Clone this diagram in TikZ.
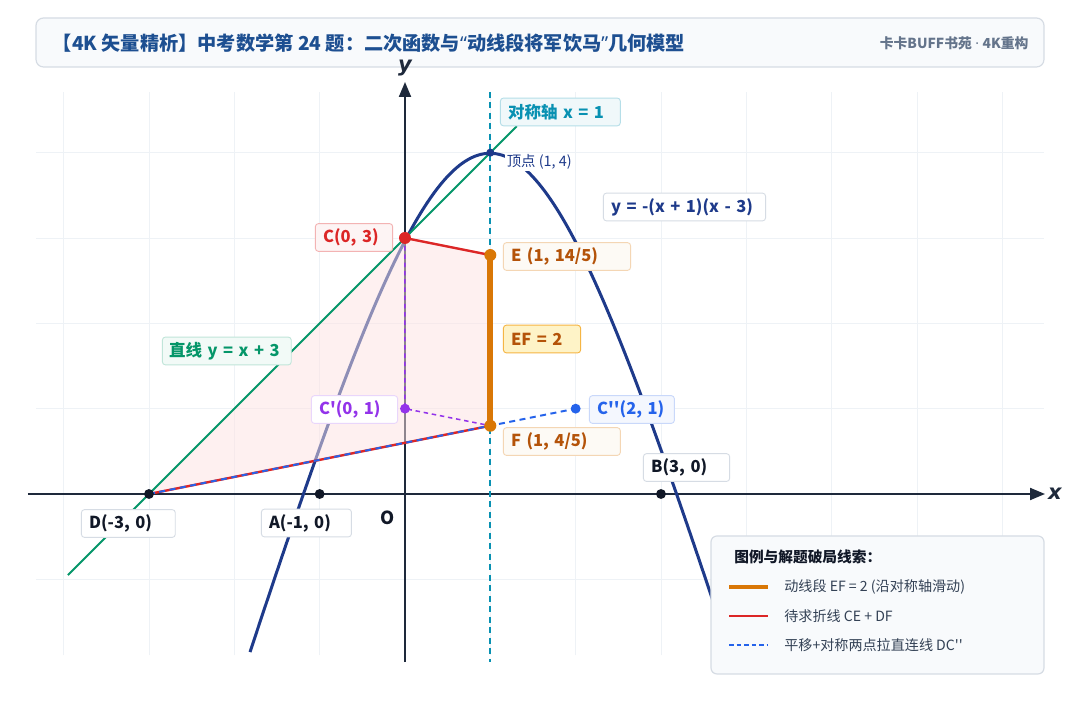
\documentclass[tikz,border=0pt]{standalone}
\usepackage{fontspec}
\setmainfont{Noto Sans CJK SC}
\newfontfamily\axisfont{DejaVu Sans}
\newfontfamily\latinfont{Noto Sans}
\usetikzlibrary{arrows.meta}

\definecolor{navy}{HTML}{1E3A8A}
\definecolor{axisc}{HTML}{1E293B}
\definecolor{gridc}{HTML}{EEF2F6}
\definecolor{ctitle}{HTML}{1D4F91}
\definecolor{cgreen}{HTML}{059669}
\definecolor{ccyan}{HTML}{0891B2}
\definecolor{cred}{HTML}{DC2626}
\definecolor{corange}{HTML}{D97706}
\definecolor{cbrown}{HTML}{B45309}
\definecolor{cpurple}{HTML}{9333EA}
\definecolor{cblue}{HTML}{2563EB}
\definecolor{cink}{HTML}{111827}
\definecolor{cslate}{HTML}{334155}
\definecolor{cgray}{HTML}{64748B}
\definecolor{cborder}{HTML}{D6DCE4}
\definecolor{cpanel}{HTML}{F8FAFC}
\definecolor{cpink}{HTML}{FEE2E2}
\definecolor{camber}{HTML}{FEF3C7}
\definecolor{camberl}{HTML}{F5B544}

\begin{document}
\begin{tikzpicture}[x=2cm, y=2cm,
    tag/.style={draw=cborder, fill=white, rounded corners=2pt, line width=0.6pt,
      anchor=west, minimum height=0.65cm, inner xsep=0.18cm, align=left,
      font=\bfseries\fontsize{11}{13}\selectfont},
    legtext/.style={anchor=west, text=cslate, font=\fontsize{9.4}{11}\selectfont}]

    \useasboundingbox (-4.746,-2.4375) rectangle (7.910,5.789);
    \fill[white] (-4.746,-2.4375) rectangle (7.910,5.789);

    % title bar
    \draw[cborder, fill=cpanel, rounded corners=5pt, line width=0.8pt] (-4.324,5.004) rectangle (7.488,5.578);
    \node[anchor=west, inner xsep=0pt, text=ctitle, font=\bfseries\fontsize{12.8}{14}\selectfont] (title) at (-4.13,5.285)
      {【4K 矢量精析】中考数学第 24 题：二次函数与{\latinfont “}动线段将军饮马{\latinfont ”}几何模型};
    \node[anchor=east, inner xsep=0pt, text=cgray, font=\bfseries\fontsize{9.2}{10}\selectfont] (brand) at (7.31,5.285)
      {卡卡BUFF书苑{\latinfont\ ·\ }4K重构};

    % grid
    \foreach \i in {-4,...,7}
      \draw[gridc, line width=0.6pt] (\i,-1.887) -- (\i,4.711);
    \foreach \j in {-1,...,4}
      \draw[gridc, line width=0.6pt] (-4.324,\j) -- (7.488,\j);

    % axes
    \draw[axisc, line width=1.3pt, -{Triangle[length=10pt,width=8pt]}] (-4.418,0) -- (7.5,0);
    \draw[axisc, line width=1.3pt, -{Triangle[length=10pt,width=8pt]}] (0,-1.969) -- (0,4.828);
    \node[text=axisc, font=\axisfont\bfseries\itshape\fontsize{14}{14}\selectfont] (xlab) at (7.617,0) {x};
    \node[text=axisc, font=\axisfont\bfseries\itshape\fontsize{14}{14}\selectfont] (ylab) at (0,4.99) {y};

    \coordinate (D) at (-3,0);
    \coordinate (A) at (-1,0);
    \coordinate (B) at (3,0);
    \coordinate (C) at (0,3);
    \coordinate (E) at (1,2.8);
    \coordinate (F) at (1,0.8);
    \coordinate (C1) at (0,1);
    \coordinate (C2) at (2,1);
    \coordinate (V) at (1,4);
    \coordinate (g1) at (-3.95,-0.95);
    \coordinate (g2) at (1.31,4.31);
    \coordinate (s1) at (1,4.711);
    \coordinate (s2) at (1,-1.969);

    % parabola
    \draw[navy, line width=2pt] (-1.816,-1.852) .. controls (0.762,5.941) and (1.231,5.941) .. (3.808,-1.852);

    % shaded region
    \fill[cpink, fill opacity=0.5] (D) -- (C) -- (E) -- (F) -- cycle;

    \draw[cgreen, line width=1.4pt] (g1) -- (g2);
    \draw[ccyan, line width=1.3pt, dash pattern=on 4pt off 3pt] (s1) -- (s2);

    \draw[cred, line width=1.6pt] (C) -- (E);
    \draw[cred, line width=1.6pt] (D) -- (F);
    \draw[cblue, line width=1.3pt, dash pattern=on 4pt off 3pt] (D) -- (C2);
    \draw[cpurple, line width=1pt, dash pattern=on 3pt off 2.5pt] (C) -- (C1) -- (F);
    \draw[corange, line width=4pt] (E) -- (F);

    \node[anchor=west, fill=white, inner sep=1pt, text=navy, font=\fontsize{9.6}{11}\selectfont] (vlab) at (1.172,3.891) {顶点 (1, 4)};

    % points
    \fill[navy] (V) circle (2.7pt);
    \fill[cred] (C) circle (4pt);
    \fill[corange] (E) circle (4pt);
    \fill[corange] (F) circle (4pt);
    \fill[cpurple] (C1) circle (3.3pt);
    \fill[cblue] (C2) circle (3.3pt);
    \fill[cink] (D) circle (3.3pt);
    \fill[cink] (A) circle (3.3pt);
    \fill[cink] (B) circle (3.3pt);

    % labels
    \node[tag, draw=ccyan!30, fill=ccyan!6, text=ccyan, text width=2.45cm] (symlab) at (1.113,4.477) {对称轴 x = 1};
    \node[tag, text=navy, text width=3.44cm] (parlab) at (2.320,3.363) {y = -(x + 1)(x - 3)};
    \node[tag, draw=cred!35, fill=cred!5, text=cred, text width=1.45cm] (clab) at (-1.055,3.006) {C(0, 3)};
    \node[tag, draw=corange!30, fill=corange!4, text=cbrown, text width=2.62cm] (elab) at (1.148,2.783) {E (1, 14/5)};
    \node[tag, draw=camberl, fill=camber, text=cbrown, text width=1.45cm] (eflab) at (1.148,1.816) {EF = 2};
    \node[tag, draw=corange!30, fill=corange!4, text=cbrown, text width=2.38cm] (flab) at (1.148,0.615) {F (1, 4/5)};
    \node[tag, draw=cblue!25, fill=cblue!5, text=cblue, text width=1.63cm] (c2lab) at (2.156,0.990) {C\textquotesingle\textquotesingle(2, 1)};
    \node[tag, draw=cpurple!20, fill=white, text=cpurple, text width=1.66cm] (c1lab) at (-1.102,0.990) {C\textquotesingle(0, 1)};
    \node[tag, draw=cgreen!25, fill=cgreen!5, text=cgreen, inner xsep=0.16cm, text width=2.7cm] (linelab) at (-2.848,1.676) {直线 y = x + 3};
    \node[tag, text=cink, text width=1.66cm] (blab) at (2.789,0.310) {B(3, 0)};
    \node[tag, text=cink, text width=1.84cm] (dlab) at (-3.797,-0.346) {D(-3, 0)};
    \node[tag, text=cink, text width=1.75cm] (alab) at (-1.688,-0.340) {A(-1, 0)};
    \node[text=cink, font=\bfseries\fontsize{12}{14}\selectfont] (olab) at (-0.199,-0.281) {O};

    % legend
    \draw[cborder, fill=cpanel, rounded corners=4pt, line width=0.8pt] (3.586,-0.492) rectangle (7.488,-2.109);
    \node[anchor=west, text=cink, font=\bfseries\fontsize{9.8}{11}\selectfont] (legtitle) at (3.797,-0.738) {图例与解题破局线索：};
    \draw[corange, line width=2.7pt] (3.797,-1.090) -- (4.254,-1.090);
    \node[legtext] (leg1) at (4.383,-1.090) {动线段 EF = 2 (沿对称轴滑动)};
    \draw[cred, line width=1.6pt] (3.797,-1.430) -- (4.254,-1.430);
    \node[legtext] (leg2) at (4.383,-1.430) {待求折线 CE + DF};
    \draw[cblue, line width=1.3pt, dash pattern=on 3pt off 2pt] (3.797,-1.770) -- (4.254,-1.770);
    \node[legtext] (leg3) at (4.383,-1.770) {平移+对称两点拉直连线 DC\textquotesingle\textquotesingle};
\end{tikzpicture}
\end{document}
